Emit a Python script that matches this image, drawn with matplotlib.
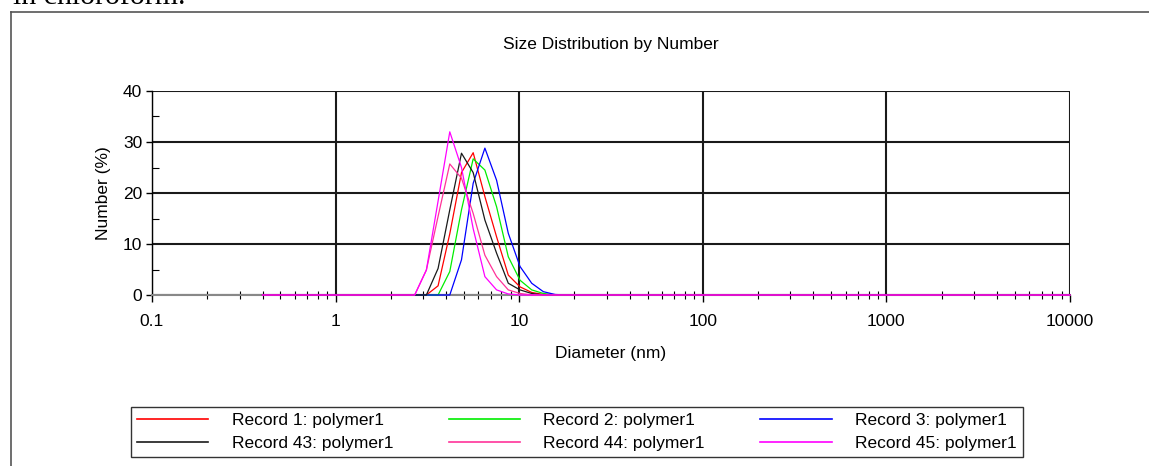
import matplotlib
matplotlib.use("Agg")
import matplotlib.pyplot as plt
from matplotlib.lines import Line2D
from matplotlib.ticker import LogLocator, NullFormatter, FixedLocator

matplotlib.rcParams['font.family'] = ['Liberation Sans', 'DejaVu Sans']

# size classes (nm)
sizes = [
    0.4, 0.4632, 0.5365, 0.6213, 0.7195, 0.8332, 0.9649, 1.117, 1.294, 1.499,
    1.736, 2.01, 2.328, 2.696, 3.122, 3.615, 4.187, 4.849, 5.615, 6.503,
    7.531, 8.721, 10.1, 11.7, 13.54, 15.69, 18.17, 21.04, 24.36, 28.21,
    32.67, 37.84, 43.82, 50.75, 58.77, 68.06, 78.82, 91.28, 105.7, 122.4,
    141.8, 164.2, 190.1, 220.2, 255.0, 295.3, 342.0, 396.1, 458.7, 531.2,
    615.1, 712.4, 825.0, 955.4, 1106, 1281, 1484, 1718, 1990, 2305,
    2669, 3091, 3580, 4145, 4801, 5560, 6439, 7456, 8635, 10000]

# number (%) per size class
rec1 = [
    0, 0, 0, 0, 0, 0, 0, 0, 0, 0,
    0, 0, 0, 0, 0, 1.8, 12.0, 24.0, 27.9, 19.3,
    11.4, 3.9, 1.6, 0.5, 0.1, 0, 0, 0, 0, 0,
    0, 0, 0, 0, 0, 0, 0, 0, 0, 0,
    0, 0, 0, 0, 0, 0, 0, 0, 0, 0,
    0, 0, 0, 0, 0, 0, 0, 0, 0, 0,
    0, 0, 0, 0, 0, 0, 0, 0, 0, 0]
rec2 = [
    0, 0, 0, 0, 0, 0, 0, 0, 0, 0,
    0, 0, 0, 0, 0, 0, 4.6, 16.7, 26.7, 24.5,
    17.3, 7.5, 2.9, 1.0, 0.3, 0, 0, 0, 0, 0,
    0, 0, 0, 0, 0, 0, 0, 0, 0, 0,
    0, 0, 0, 0, 0, 0, 0, 0, 0, 0,
    0, 0, 0, 0, 0, 0, 0, 0, 0, 0,
    0, 0, 0, 0, 0, 0, 0, 0, 0, 0]
rec3 = [
    0, 0, 0, 0, 0, 0, 0, 0, 0, 0,
    0, 0, 0, 0, 0, 0, 0, 6.9, 21.9, 28.8,
    22.5, 12.1, 5.6, 2.3, 0.65, 0.1, 0, 0, 0, 0,
    0, 0, 0, 0, 0, 0, 0, 0, 0, 0,
    0, 0, 0, 0, 0, 0, 0, 0, 0, 0,
    0, 0, 0, 0, 0, 0, 0, 0, 0, 0,
    0, 0, 0, 0, 0, 0, 0, 0, 0, 0]
rec43 = [
    0, 0, 0, 0, 0, 0, 0, 0, 0, 0,
    0, 0, 0, 0, 0, 5.2, 16.7, 27.8, 24.0, 14.7,
    8.2, 2.3, 1.0, 0.3, 0, 0, 0, 0, 0, 0,
    0, 0, 0, 0, 0, 0, 0, 0, 0, 0,
    0, 0, 0, 0, 0, 0, 0, 0, 0, 0,
    0, 0, 0, 0, 0, 0, 0, 0, 0, 0,
    0, 0, 0, 0, 0, 0, 0, 0, 0, 0]
rec44 = [
    0, 0, 0, 0, 0, 0, 0, 0, 0, 0,
    0, 0, 0, 0, 4.9, 15.4, 25.7, 22.9, 16.0, 7.8,
    3.6, 1.0, 0.3, 0, 0, 0, 0, 0, 0, 0,
    0, 0, 0, 0, 0, 0, 0, 0, 0, 0,
    0, 0, 0, 0, 0, 0, 0, 0, 0, 0,
    0, 0, 0, 0, 0, 0, 0, 0, 0, 0,
    0, 0, 0, 0, 0, 0, 0, 0, 0, 0]
rec45 = [
    0, 0, 0, 0, 0, 0, 0, 0, 0, 0,
    0, 0, 0, 0, 4.9, 18.4, 32.0, 25.0, 13.0, 3.6,
    1.0, 0.2, 0, 0, 0, 0, 0, 0, 0, 0,
    0, 0, 0, 0, 0, 0, 0, 0, 0, 0,
    0, 0, 0, 0, 0, 0, 0, 0, 0, 0,
    0, 0, 0, 0, 0, 0, 0, 0, 0, 0,
    0, 0, 0, 0, 0, 0, 0, 0, 0, 0]

labels = ["Record 1: polymer1", "Record 2: polymer1", "Record 3: polymer1",
          "Record 43: polymer1", "Record 44: polymer1", "Record 45: polymer1"]
series = [rec1, rec2, rec3, rec43, rec44, rec45]
colors = ["#ff0000", "#00ee00", "#0000ff", "#1a1a1a", "#ff3399", "#ff00ff"]

W, H = 1149, 466
fig = plt.figure(figsize=(W / 100, H / 100), dpi=100)

# page frame + clipped caption text above
fig.add_artist(Line2D([11 / W, 11 / W], [0, 1 - 12 / H], color="#555555", lw=1.2))
fig.add_artist(Line2D([11 / W, 1], [1 - 12 / H, 1 - 12 / H], color="#555555", lw=1.2))
fig.text(13 / W, 1 - 4 / H, "in chloroform.", family="Liberation Serif",
         fontsize=21.5, va="baseline", ha="left")

ax = fig.add_axes([152 / W, 1 - 295 / H, (1070 - 152) / W, (295 - 91) / H])

for vals, c in zip(series, colors):
    ax.plot(sizes, vals, color=c, lw=0.9, zorder=4, clip_on=False)

ax.set_xscale("log")
ax.set_xlim(0.1, 10000)
ax.set_ylim(0, 40)
ax.xaxis.set_major_locator(FixedLocator([0.1, 1, 10, 100, 1000, 10000]))
ax.set_xticklabels(["0.1", "1", "10", "100", "1000", "10000"])
ax.xaxis.set_minor_locator(LogLocator(base=10, subs=range(2, 10), numticks=20))
ax.xaxis.set_minor_formatter(NullFormatter())
ax.set_yticks([0, 10, 20, 30, 40])
ax.set_yticks([5, 15, 25, 35], minor=True)

ax.grid(True, which="major", color="#1a1a1a", lw=1.5)
ax.set_axisbelow(True)
for s in ["top", "right"]:
    ax.spines[s].set_visible(False)
ax.spines["left"].set_color("#000000")
ax.spines["left"].set_linewidth(1.0)
ax.spines["bottom"].set_color("#888888")
ax.spines["bottom"].set_linewidth(1.5)

ax.tick_params(axis="x", which="major", direction="out", length=5, width=1,
               pad=9, labelsize=12.5)
ax.tick_params(axis="x", which="minor", direction="inout", length=6, width=0.8)
ax.tick_params(axis="y", which="major", direction="out", length=4, width=1,
               pad=3, labelsize=12.5)
ax.tick_params(axis="y", which="minor", direction="in", length=5, width=0.8)

ax.set_title("Size Distribution by Number", fontsize=12.5, pad=30)
ax.set_xlabel("Diameter (nm)", fontsize=12.5, labelpad=12)
ax.set_ylabel("Number (%)", fontsize=12.5, labelpad=8.5)

# legend: 3 columns x 2 rows, filled column by column
order = [0, 3, 1, 4, 2, 5]
handles = [Line2D([], [], color=colors[i], lw=1.2) for i in order]
leg = fig.legend(handles, [labels[i] for i in order], ncol=3,
                 loc="upper left", bbox_to_anchor=(131 / W, 1 - 407 / H),
                 fontsize=12.5, frameon=True, fancybox=False,
                 edgecolor="#000000", handlelength=4.1, handletextpad=1.35,
                 columnspacing=3.2, labelspacing=0.42, borderpad=0.35,
                 borderaxespad=0)
leg.get_frame().set_linewidth(1.0)

fig.savefig("out.png", dpi=100)
